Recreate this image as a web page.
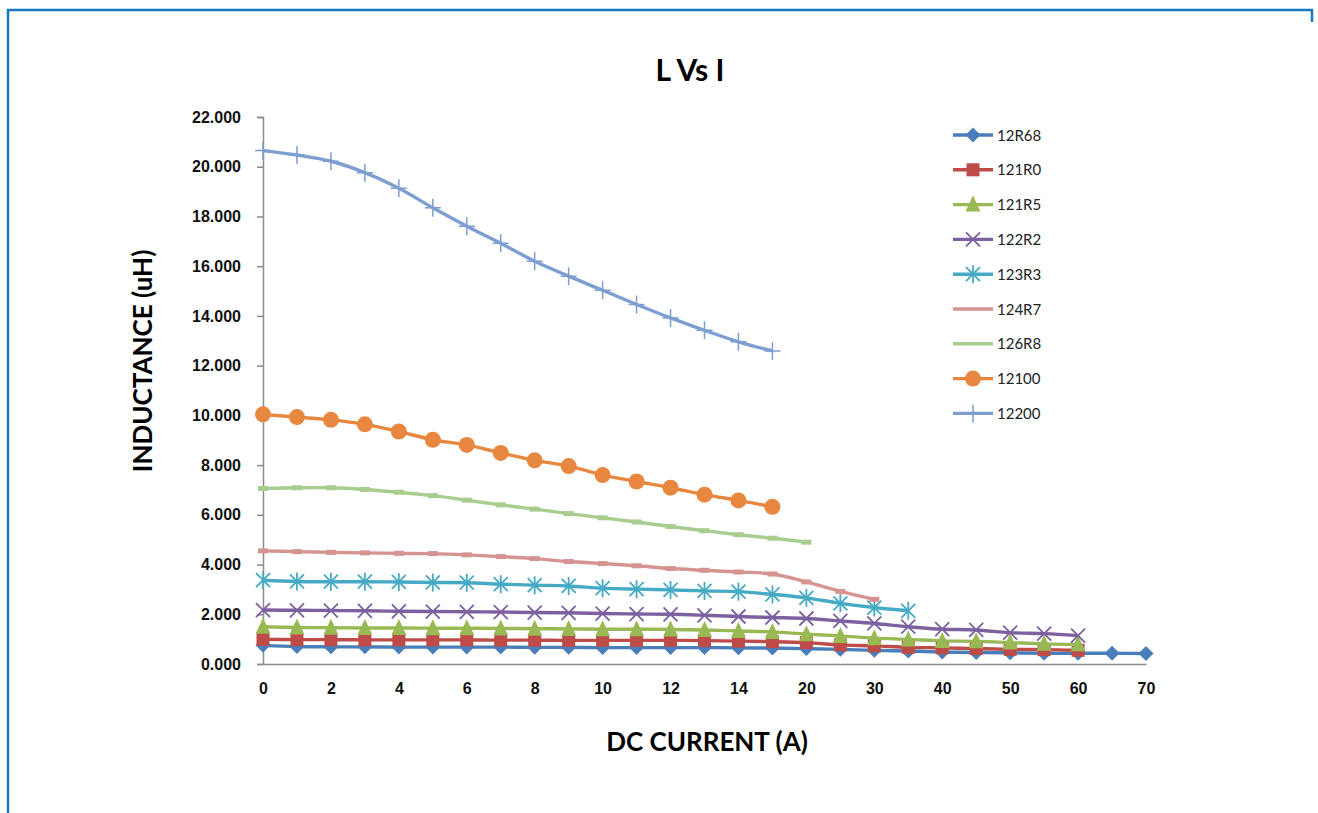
<!DOCTYPE html>
<html>
<head>
<meta charset="utf-8">
<script src="https://cdn.jsdelivr.net/npm/d3@7"></script>
<style>
  body { margin: 0; background: #fff; }
  svg { display: block; font-family: Lato, 'Open Sans', sans-serif; }
</style>
</head>
<body>
<div id="chart"></div>
<script>
// categories on the x axis (Excel category axis, not linear)
const currents = ['0', '1', '2', '3', '4', '5', '6', '7', '8', '9', '10', '11', '12', '13', '14', '15',
  '20', '25', '30', '35', '40', '45', '50', '55', '60', '65', '70']
const xTickLabels = ['0', '2', '4', '6', '8', '10', '12', '14', '20', '30', '40', '50', '60', '70']
const yTicks = [0, 2, 4, 6, 8, 10, 12, 14, 16, 18, 20, 22]

const seriesNames = ['12R68', '121R0', '121R5', '122R2', '123R3', '124R7', '126R8', '12100', '12200']

const l12R68 = [0.75, 0.70, 0.69, 0.69, 0.68, 0.68, 0.68, 0.68, 0.67, 0.67, 0.66, 0.66, 0.66, 0.66, 0.65, 0.64,
  0.62, 0.59, 0.55, 0.52, 0.48, 0.46, 0.45, 0.43, 0.43, 0.43, 0.42]
const l121R0 = [0.99, 0.98, 0.98, 0.97, 0.97, 0.97, 0.97, 0.96, 0.96, 0.95, 0.95, 0.95, 0.95, 0.94, 0.92, 0.90,
  0.86, 0.77, 0.73, 0.67, 0.65, 0.62, 0.59, 0.58, 0.55]
const l121R5 = [1.50, 1.47, 1.46, 1.45, 1.45, 1.44, 1.44, 1.43, 1.42, 1.41, 1.40, 1.40, 1.39, 1.37, 1.33, 1.29,
  1.20, 1.13, 1.04, 0.99, 0.93, 0.91, 0.86, 0.81, 0.79]
const l122R2 = [2.17, 2.16, 2.15, 2.14, 2.12, 2.11, 2.10, 2.09, 2.07, 2.06, 2.03, 2.01, 2.00, 1.96, 1.91, 1.87,
  1.83, 1.73, 1.63, 1.50, 1.40, 1.37, 1.26, 1.22, 1.14]
const l123R3 = [3.37, 3.32, 3.31, 3.31, 3.30, 3.28, 3.27, 3.21, 3.17, 3.14, 3.05, 3.01, 2.98, 2.94, 2.91, 2.80,
  2.66, 2.44, 2.27, 2.14]
const l124R7 = [4.55, 4.52, 4.49, 4.47, 4.45, 4.44, 4.39, 4.32, 4.24, 4.12, 4.04, 3.95, 3.84, 3.77, 3.70, 3.62,
  3.30, 2.92, 2.60]
const l126R8 = [7.06, 7.09, 7.09, 7.02, 6.91, 6.77, 6.59, 6.40, 6.23, 6.05, 5.88, 5.71, 5.53, 5.36, 5.20, 5.06, 4.90]
const l12100 = [10.04, 9.93, 9.82, 9.64, 9.35, 9.02, 8.81, 8.49, 8.19, 7.96, 7.60, 7.34, 7.09, 6.81, 6.58, 6.32]
const l12200 = [20.65, 20.47, 20.22, 19.76, 19.13, 18.35, 17.61, 16.92, 16.20, 15.60, 15.03, 14.46, 13.92, 13.42,
  12.96, 12.59]

const seriesValues = [l12R68, l121R0, l121R5, l122R2, l123R3, l124R7, l126R8, l12100, l12200]

const colors = ['#4a7ebb', '#be4b48', '#98b954', '#7d60a0', '#46aac5', '#d59391', '#a9cc8f', '#e8873f', '#7e9ed2']
const markers = ['diamond', 'square', 'triangle', 'cross', 'star', 'dash', 'dash', 'circle', 'plus']

const W = 1318
const H = 813
const plot = { left: 263, right: 1146, top: 117, bottom: 664 }

const svg = d3
  .select('#chart')
  .append('svg')
  .attr('width', W)
  .attr('height', H)

// blue frame around the picture
svg.append('line').attr('x1', 7).attr('x2', 1313).attr('y1', 10).attr('y2', 10)
  .attr('stroke', '#1a78c2').attr('stroke-width', 2.5)
svg.append('line').attr('x1', 8).attr('x2', 8).attr('y1', 9).attr('y2', H)
  .attr('stroke', '#1a78c2').attr('stroke-width', 2.5)
svg.append('line').attr('x1', 1312).attr('x2', 1312).attr('y1', 9).attr('y2', 22)
  .attr('stroke', '#1a78c2').attr('stroke-width', 2.5)

const xPositionScale = d3
  .scalePoint()
  .domain(currents)
  .range([plot.left, plot.right])

const yPositionScale = d3
  .scaleLinear()
  .domain([0, 22])
  .range([plot.bottom, plot.top])

// axes
const yAxis = d3
  .axisLeft(yPositionScale)
  .tickValues(yTicks)
  .tickFormat(d3.format('.3f'))
  .tickSize(6)
  .tickPadding(16)

svg
  .append('g')
  .attr('class', 'y-axis')
  .attr('transform', `translate(${plot.left},0)`)
  .call(yAxis)

const xAxis = d3
  .axisBottom(xPositionScale)
  .tickValues(xTickLabels)
  .tickSize(0)
  .tickPadding(19)

svg
  .append('g')
  .attr('class', 'x-axis')
  .attr('transform', `translate(0,${plot.bottom})`)
  .call(xAxis)

svg.selectAll('.domain').attr('stroke', '#8c8c8c').attr('stroke-width', 1.5)
svg.selectAll('.tick line').attr('stroke', '#8c8c8c').attr('stroke-width', 1.5)
svg.selectAll('.tick text')
  .attr('fill', '#111')
  .attr('font-size', 16)
  .attr('font-weight', 'bold')

// titles
svg.append('text')
  .attr('x', 690).attr('y', 81)
  .attr('text-anchor', 'middle')
  .attr('font-size', 30).attr('font-weight', 'bold')
  .text('L Vs I')

svg.append('text')
  .attr('transform', 'translate(152,361) rotate(-90)')
  .attr('text-anchor', 'middle')
  .attr('font-size', 26).attr('font-weight', 'bold')
  .text('INDUCTANCE (uH)')

svg.append('text')
  .attr('x', 707).attr('y', 751)
  .attr('text-anchor', 'middle')
  .attr('font-size', 26).attr('font-weight', 'bold')
  .text('DC CURRENT (A)')

function drawMarker(g, type, color) {
  if (type === 'diamond') {
    g.append('path').attr('d', 'M0,-7.5L7.5,0L0,7.5L-7.5,0Z').attr('fill', color)
  } else if (type === 'square') {
    g.append('rect').attr('x', -6.5).attr('y', -6.5).attr('width', 13).attr('height', 13).attr('fill', color)
  } else if (type === 'triangle') {
    g.append('path').attr('d', 'M0,-9L7.5,7L-7.5,7Z').attr('fill', color)
  } else if (type === 'cross') {
    g.append('path').attr('d', 'M-7,-7L7,7M-7,7L7,-7').attr('stroke', color).attr('stroke-width', 1.8)
  } else if (type === 'star') {
    g.append('path').attr('d', 'M-7,-7L7,7M-7,7L7,-7M0,-9L0,9').attr('stroke', color).attr('stroke-width', 1.8)
  } else if (type === 'dash') {
    g.append('rect').attr('x', -5).attr('y', -2.5).attr('width', 10).attr('height', 5).attr('fill', color)
  } else if (type === 'circle') {
    g.append('circle').attr('r', 8).attr('fill', color)
  } else if (type === 'plus') {
    g.append('path').attr('d', 'M-8,0L8,0M0,-9L0,9').attr('stroke', color).attr('stroke-width', 1.5)
  }
}

const line = d3
  .line()
  .x((d, i) => xPositionScale(currents[i]))
  .y(d => yPositionScale(d))
  .curve(d3.curveCatmullRom.alpha(0.5))

seriesValues.forEach((values, s) => {
  const g = svg.append('g').attr('class', 'series')
  g.append('path')
    .datum(values)
    .attr('d', line)
    .attr('fill', 'none')
    .attr('stroke', colors[s])
    .attr('stroke-width', 3.4)
    .attr('stroke-linejoin', 'round')

  values.forEach((v, i) => {
    const m = g.append('g')
      .attr('transform', `translate(${xPositionScale(currents[i])},${yPositionScale(v)})`)
    drawMarker(m, markers[s], colors[s])
  })
})

// legend
const legend = svg.append('g').attr('transform', 'translate(953,135)')
seriesNames.forEach((name, s) => {
  const row = legend.append('g').attr('transform', `translate(0,${s * 34.8})`)
  row.append('line')
    .attr('x1', 0).attr('x2', 40)
    .attr('stroke', colors[s]).attr('stroke-width', 3.4)
  const m = row.append('g').attr('transform', 'translate(20,0)')
  if (markers[s] !== 'dash') drawMarker(m, markers[s], colors[s])
  row.append('text')
    .attr('x', 44).attr('y', 5.5)
    .attr('font-size', 15)
    .attr('fill', '#222')
    .text(name)
})
</script>
</body>
</html>
